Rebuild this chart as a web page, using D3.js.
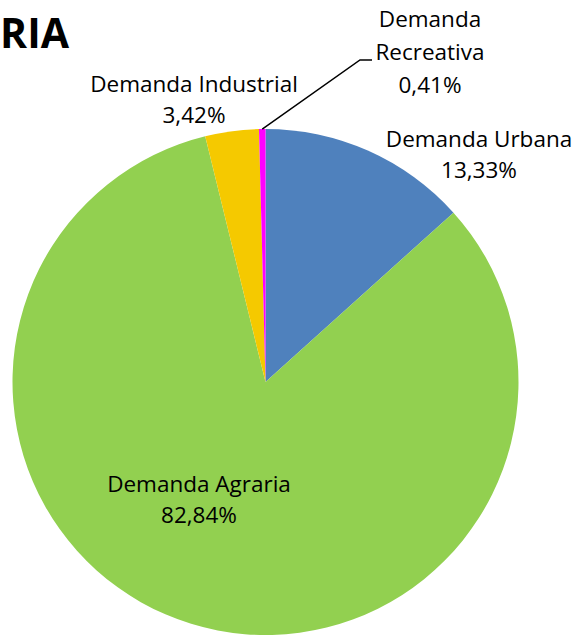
<!DOCTYPE html>
<html><head><meta charset="utf-8">
<script src="https://cdn.jsdelivr.net/npm/d3@7"></script>
<style>html,body{margin:0;padding:0;background:#fff;overflow:hidden}</style>
</head><body>
<script>
const categories = ["Demanda Urbana", "Demanda Agraria", "Demanda Industrial", "Demanda Recreativa"];
const values = [13.33, 82.84, 3.42, 0.41];
const colors = ["#4F81BD", "#92D050", "#F5C900", "#FF00FF"];
const title = "RIA";

const W = 578, H = 636;
const cx = 265.5, cy = 382, R = 253;
const font = "'Open Sans', sans-serif";

const svg = d3.select("body").append("svg").attr("width", W).attr("height", H);

const pie = d3.pie().sort(null).value(d => d.v);
const arcs = pie(categories.map((c, i) => ({c, v: values[i], col: colors[i]})));
const arc = d3.arc().innerRadius(0).outerRadius(R);

const g = svg.append("g").attr("transform", `translate(${cx},${cy})`);
g.selectAll("path").data(arcs).join("path")
  .attr("d", arc).attr("fill", d => d.data.col);

// title (clipped at left edge)
svg.append("text").attr("x", 69).attr("y", 48).attr("text-anchor", "end")
  .attr("font-family", font).attr("font-weight", "bold").attr("font-size", 41)
  .attr("fill", "#000").text(title);

const fmt = v => d3.format(".2f")(v).replace(".", ",") + "%";

// label layout (positions only)
const labelLayout = [
  {x: 479, y: 147, lines: ["Demanda Urbana"]},
  {x: 199, y: 492, lines: ["Demanda Agraria"]},
  {x: 194, y: 92, lines: ["Demanda Industrial"]},
  {x: 430, y: 27, lines: ["Demanda", "Recreativa"]}
];
arcs.forEach((a, i) => {
  const L = labelLayout[i];
  const lines = L.lines.concat([fmt(a.data.v)]);
  const t = svg.append("text").attr("font-family", font).attr("font-size", 22.5)
    .attr("fill", "#000").attr("text-anchor", "middle");
  lines.forEach((s, k) => t.append("tspan").attr("x", L.x).attr("y", L.y + k * (i === 3 ? 33 : 31)).text(s));
});

// leader line for the small slice
const rec = arcs[3];
const mid = (rec.startAngle + rec.endAngle) / 2;
const p0 = [cx + Math.sin(mid) * R, cy - Math.cos(mid) * R];
svg.append("path")
  .attr("d", `M${p0[0]},${p0[1]}L360,60L372,60`)
  .attr("fill", "none").attr("stroke", "#000").attr("stroke-width", 1.5);
</script>
</body></html>
